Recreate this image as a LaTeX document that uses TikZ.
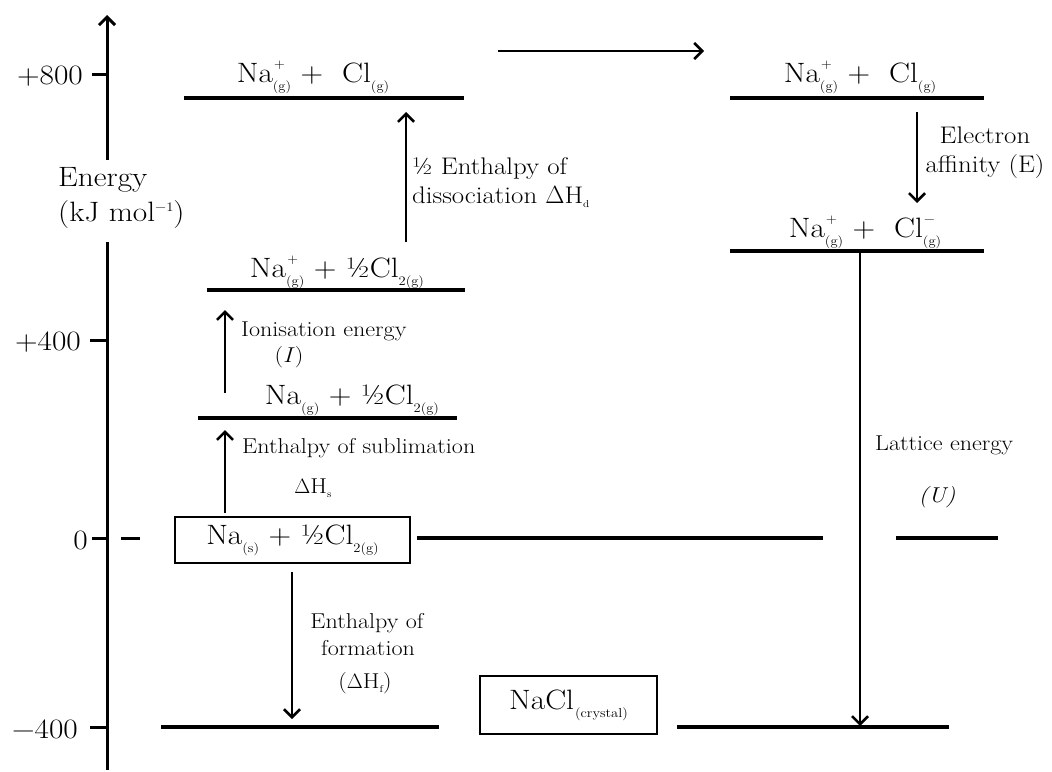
\documentclass[tikz,border=0pt]{standalone}
\usepackage[no-math]{fontspec}
\setmainfont{Latin Modern Roman}[FakeStretch=1.12]
\usetikzlibrary{arrows.meta}

% small index text for states and charges
\newcommand\tinyfs{\fontsize{13}{13}\selectfont}
\newcommand\lo[1]{\raisebox{-8pt}{\tinyfs #1}}
\newcommand\hilo[2]{\makebox[0pt][l]{\hspace{1pt}\raisebox{14pt}{\tinyfs #1}}\lo{#2}}
\newcommand\sublab[1]{\raisebox{-4pt}{\fontsize{10}{10}\selectfont #1}}

\tikzset{
  level/.style={line width=3.4pt},
  axisline/.style={line width=3pt},
  arr/.style={line width=2.6pt,-{Straight Barb[length=8pt,width=16pt]}},
  species/.style={font=\fontsize{28}{32}\selectfont, inner sep=0pt, anchor=base},
  axlab/.style={font=\fontsize{28}{32}\selectfont, inner sep=0pt, anchor=base east},
  lab/.style={font=\fontsize{21.5}{25}\selectfont, inner sep=0pt},
  boxed/.style={draw, line width=2.2pt, inner sep=0pt, font=\fontsize{28}{32}\selectfont},
}

\begin{document}
\begin{tikzpicture}[x=1pt,y=-1pt]
\useasboundingbox (0,0) rectangle (1052,771);

% energy axis
\coordinate (axbot) at (107,770);
\coordinate (axmid) at (107,242);
\coordinate (axtop0) at (107,160);
\coordinate (axtop) at (107,15);
\draw[axisline] (axbot) -- (axmid);
\draw[axisline,-{Straight Barb[length=8pt,width=16pt]}] (axtop0) -- (axtop);

\node[axlab, anchor=base west] (en) at (58,186) {Energy};
\node[axlab, anchor=base west] (unit) at (58,221) {(kJ mol\raisebox{10pt}{\tinyfs −1})};

% ticks
\coordinate (t800) at (92,74);  \coordinate (a800) at (107,74);
\coordinate (t400) at (90,340); \coordinate (a400) at (107,340);
\coordinate (t0) at (92,538);   \coordinate (a0) at (107,538);
\coordinate (tm400) at (90,727);\coordinate (am400) at (107,727);
\draw[axisline] (t800) -- (a800);
\draw[axisline] (t400) -- (a400);
\draw[axisline] (t0) -- (a0);
\draw[axisline] (tm400) -- (am400);
\coordinate (d0a) at (121,538); \coordinate (d0b) at (140,538);
\draw[axisline] (d0a) -- (d0b);

\node[axlab] (l800) at (83,84) {+800};
\node[axlab] (l400) at (81,350) {+400};
\node[axlab] (l0) at (88,549) {0};
\node[axlab] (lm400) at (78,738) {−400};

% levels, left column
\coordinate (A1) at (184,98);  \coordinate (A2) at (464,98);
\coordinate (B1) at (207,290); \coordinate (B2) at (465,290);
\coordinate (C1) at (198,418); \coordinate (C2) at (457,418);
\coordinate (F1) at (161,727); \coordinate (F2) at (439,727);
\draw[level] (A1) -- (A2);
\draw[level] (B1) -- (B2);
\draw[level] (C1) -- (C2);
\draw[level] (F1) -- (F2);

% levels, right column
\coordinate (R1) at (730,98);  \coordinate (R2) at (984,98);
\coordinate (S1) at (730,251); \coordinate (S2) at (984,251);
\coordinate (Z1) at (417,538); \coordinate (Z2) at (823,538);
\coordinate (Z3) at (896,538); \coordinate (Z4) at (998,538);
\coordinate (G1) at (677,727); \coordinate (G2) at (949,727);
\draw[level] (R1) -- (R2);
\draw[level] (S1) -- (S2);
\draw[level] (Z1) -- (Z2);
\draw[level] (Z3) -- (Z4);
\draw[level] (G1) -- (G2);

% species labels
\node[species] (sA) at (313,82) {Na\hilo{+}{(g)} + \ Cl\lo{(g)}};
\node[species] (sB) at (337,277) {Na\hilo{+}{(g)} + ½Cl\lo{2(g)}};
\node[species] (sC) at (352,404) {Na\lo{(g)} + ½Cl\lo{2(g)}};
\node[species] (sR) at (860,82) {Na\hilo{+}{(g)} + \ Cl\lo{(g)}};
\node[species] (sS) at (865,237) {Na\hilo{+}{(g)} + \ Cl\hilo{−}{(g)}};

\node[boxed, minimum width=235pt, minimum height=46pt] (start) at (292.5,540)
  {Na\lo{(s)} + ½Cl\lo{2(g)}};
\node[boxed, minimum width=177pt, minimum height=58pt] (nacl) at (568.5,705)
  {NaCl\lo{\hspace{1pt}(crystal)}};

% top transfer arrow
\coordinate (h1) at (498,51); \coordinate (h2) at (704,51);
\draw[arr] (h1) -- (h2);

% step arrows
\coordinate (sub0) at (225,513); \coordinate (sub1) at (225,430);
\coordinate (ion0) at (225,393); \coordinate (ion1) at (225,310);
\coordinate (dis0) at (406,242); \coordinate (dis1) at (406,112);
\coordinate (ea0) at (917,112);  \coordinate (ea1) at (917,203);
\coordinate (lat0) at (860,251); \coordinate (lat1) at (860,726);
\coordinate (for0) at (292,572); \coordinate (for1) at (292,719);
\draw[arr] (sub0) -- (sub1);
\draw[arr] (ion0) -- (ion1);
\draw[arr] (dis0) -- (dis1);
\draw[arr] (ea0) -- (ea1);
\draw[arr] (lat0) -- (lat1);
\draw[arr] (for0) -- (for1);

% step labels
\node[lab, anchor=base west, font=\fontsize{24}{28}\selectfont] (ldis1) at (412,174) {½ Enthalpy of};
\node[lab, anchor=base west, font=\fontsize{24}{28}\selectfont] (ldis2) at (412,203) {dissociation $\Delta$H\sublab{d}};
\node[lab, anchor=base, font=\fontsize{24}{28}\selectfont] (lea1) at (985,143) {Electron};
\node[lab, anchor=base, font=\fontsize{24}{28}\selectfont] (lea2) at (985,172) {affinity (E)};
\node[lab, anchor=base west] (lion1) at (241,336) {Ionisation energy};
\node[lab, anchor=base] (lion2) at (289,362) {(\textit{I})};
\node[lab, anchor=base west] (lsub1) at (242,453) {Enthalpy of sublimation};
\node[lab, anchor=base] (lsub2) at (313,493) {$\Delta$H\sublab{s}};
\node[lab, anchor=base] (lfor1) at (367,628) {Enthalpy of};
\node[lab, anchor=base] (lfor2) at (368,655) {formation};
\node[lab, anchor=base] (lfor3) at (365,688) {($\Delta$H\sublab{f})};
\node[lab, anchor=base west] (llat1) at (875,450) {Lattice energy};
\node[lab, anchor=base] (llat2) at (937,502) {\textit{(U)}};
\end{tikzpicture}
\end{document}
